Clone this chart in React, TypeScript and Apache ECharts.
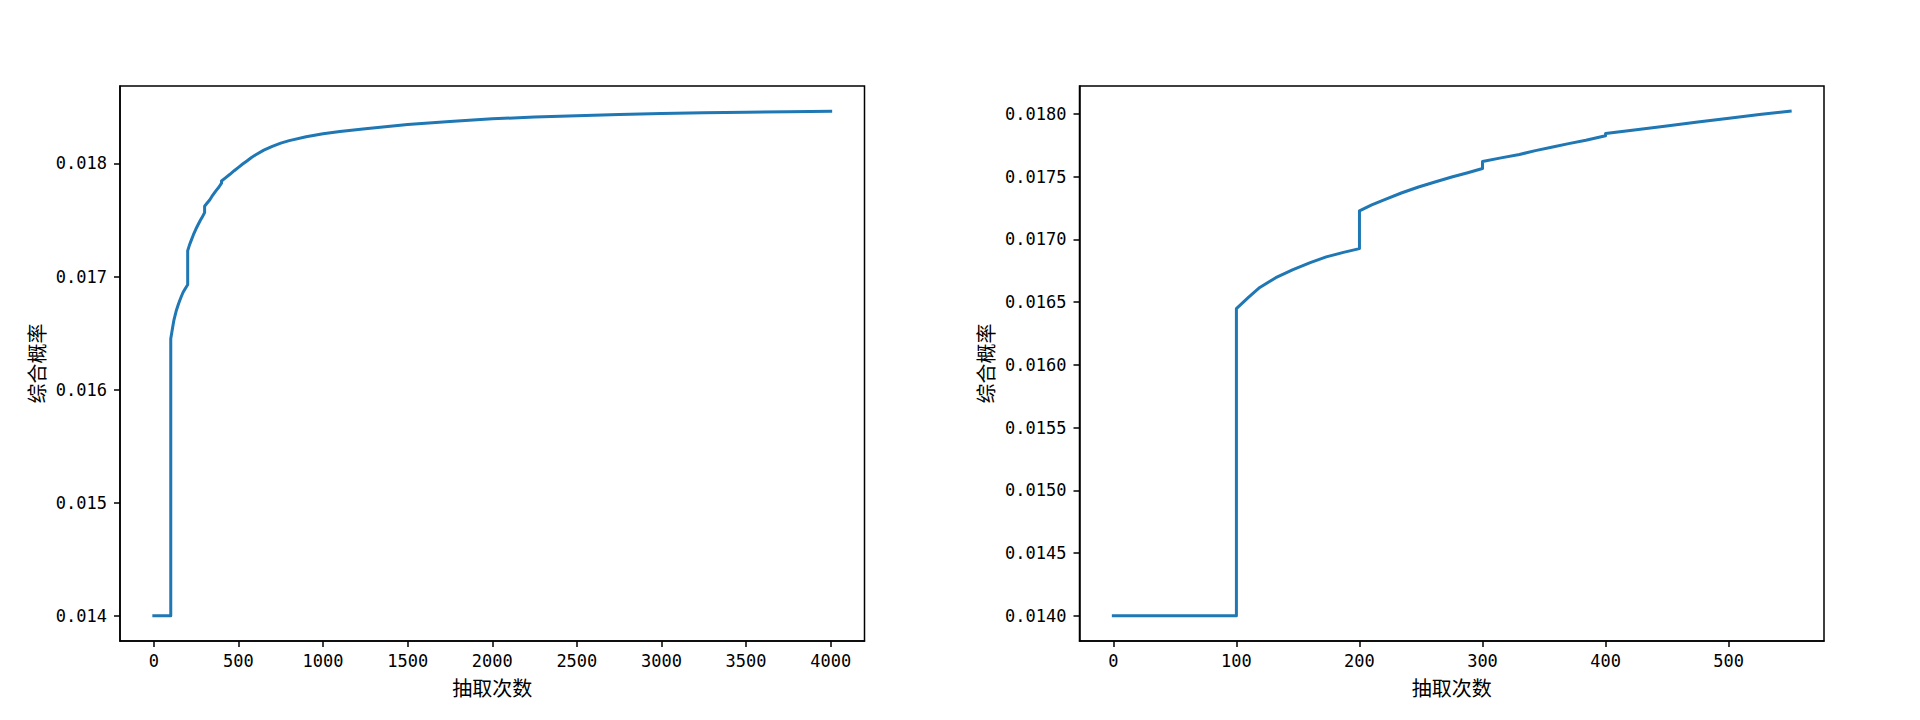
import React, { useEffect, useRef } from "react";
import * as echarts from "echarts";

// 抽取次数 (draw count) and 综合概率 (composite probability)
const drawCounts = [
  0, 100, 100, 110, 119, 132, 146, 160, 173, 187, 200,
  200, 210, 221, 234, 248, 262, 275, 288, 300,
  300, 315, 330, 343, 357, 370, 384, 400,
  400, 425, 448, 475, 502, 525, 550,
  575, 600, 650, 700, 750, 800, 900, 1000, 1100, 1250, 1500, 1750, 2000,
  2250, 2500, 2750, 3000, 3250, 3500, 3750, 4000,
];
const compositeProb = [
  0.014, 0.014, 0.016449, 0.01654, 0.016617, 0.016695, 0.01676, 0.016815, 0.016861, 0.016897, 0.016927,
  0.017228, 0.017276, 0.01732, 0.01737, 0.017418, 0.01746, 0.017498, 0.017532, 0.017565,
  0.017622, 0.01765, 0.017677, 0.017708, 0.017737, 0.017764, 0.01779, 0.017826,
  0.017845, 0.017875, 0.017902, 0.017936, 0.017968, 0.017995, 0.018022,
  0.01805, 0.018075, 0.018118, 0.018152, 0.01818, 0.018202, 0.018236, 0.018262, 0.018282, 0.018308,
  0.018345, 0.018372, 0.018395,
  0.01841, 0.018422, 0.018433, 0.018442, 0.018449, 0.018454, 0.018458, 0.018462,
];
const zoomedMaxDraw = 550;

const leftXTicks = [0, 500, 1000, 1500, 2000, 2500, 3000, 3500, 4000];
const leftYTicks = [0.014, 0.015, 0.016, 0.017, 0.018];
const rightXTicks = [0, 100, 200, 300, 400, 500];
const rightYTicks = [0.014, 0.0145, 0.015, 0.0155, 0.016, 0.0165, 0.017, 0.0175, 0.018];

const xAxisName = "抽取次数";
const yAxisName = "综合概率";

const TICK_FONT = "'DejaVu Sans Mono', monospace";
const CJK_FONT = "'Noto Sans CJK SC', sans-serif";
const BLACK = "#000000";

function paddedRange(values: number[]) {
  const lo = Math.min(...values);
  const hi = Math.max(...values);
  const pad = (hi - lo) * 0.05;
  return [lo - pad, hi + pad];
}

export default function App() {
  const ref = useRef<HTMLDivElement>(null);

  useEffect(() => {
    document.body.style.margin = "0";
    if (!ref.current) return;
    const chart = echarts.init(ref.current, undefined, { renderer: "svg" });

    const leftData = drawCounts.map((x, i) => [x, compositeProb[i]]);
    const rightData = leftData.filter((p) => p[0] <= zoomedMaxDraw);

    const [lxMin, lxMax] = paddedRange(leftData.map((p) => p[0]));
    const [lyMin, lyMax] = paddedRange(leftData.map((p) => p[1]));
    const [rxMin, rxMax] = paddedRange(rightData.map((p) => p[0]));
    const [ryMin, ryMax] = paddedRange(rightData.map((p) => p[1]));

    const axisLine = { show: true, onZero: false, lineStyle: { color: BLACK, width: 1.5 } };

    const makeX = (gridIndex: number, min: number, max: number, ticks: number[]) => ({
      type: "value",
      gridIndex,
      min,
      max,
      name: xAxisName,
      nameLocation: "middle",
      nameGap: 36,
      nameTextStyle: { fontFamily: CJK_FONT, fontSize: 20, color: BLACK },
      axisLine,
      splitLine: { show: false },
      axisTick: { show: true, customValues: ticks, length: 6, lineStyle: { color: BLACK, width: 1.5 } },
      axisLabel: {
        customValues: ticks,
        formatter: (v: number) => String(Math.round(v)),
        fontFamily: TICK_FONT,
        fontSize: 17,
        color: BLACK,
        margin: 11,
      },
    });

    const makeY = (gridIndex: number, min: number, max: number, ticks: number[], digits: number, gap: number) => ({
      type: "value",
      gridIndex,
      min,
      max,
      name: yAxisName,
      nameLocation: "middle",
      nameGap: gap,
      nameTextStyle: { fontFamily: CJK_FONT, fontSize: 20, color: BLACK },
      axisLine,
      splitLine: { show: false },
      axisTick: { show: true, customValues: ticks, length: 6, lineStyle: { color: BLACK, width: 1.5 } },
      axisLabel: {
        customValues: ticks,
        formatter: (v: number) => v.toFixed(digits),
        fontFamily: TICK_FONT,
        fontSize: 17,
        color: BLACK,
        margin: 13,
      },
    });

    const grid = (left: number) => ({
      left,
      top: 86,
      width: 744.5,
      height: 555,
      show: true,
      borderColor: BLACK,
      borderWidth: 1.5,
      backgroundColor: "transparent",
    });

    const lineSeries = (idx: number, data: number[][]) => ({
      type: "line",
      xAxisIndex: idx,
      yAxisIndex: idx,
      data,
      showSymbol: false,
      symbol: "none",
      lineStyle: { color: "#1f77b4", width: 3, cap: "square", join: "round" },
    });

    chart.setOption({
      animation: false,
      backgroundColor: "#ffffff",
      grid: [grid(120), grid(1079.5)],
      xAxis: [makeX(0, lxMin, lxMax, leftXTicks), makeX(1, rxMin, rxMax, rightXTicks)],
      yAxis: [makeY(0, lyMin, lyMax, leftYTicks, 3, 74), makeY(1, ryMin, ryMax, rightYTicks, 4, 84)],
      series: [lineSeries(0, leftData), lineSeries(1, rightData)],
    });

    return () => chart.dispose();
  }, []);

  return <div ref={ref} style={{ width: 1920, height: 720 }} />;
}
